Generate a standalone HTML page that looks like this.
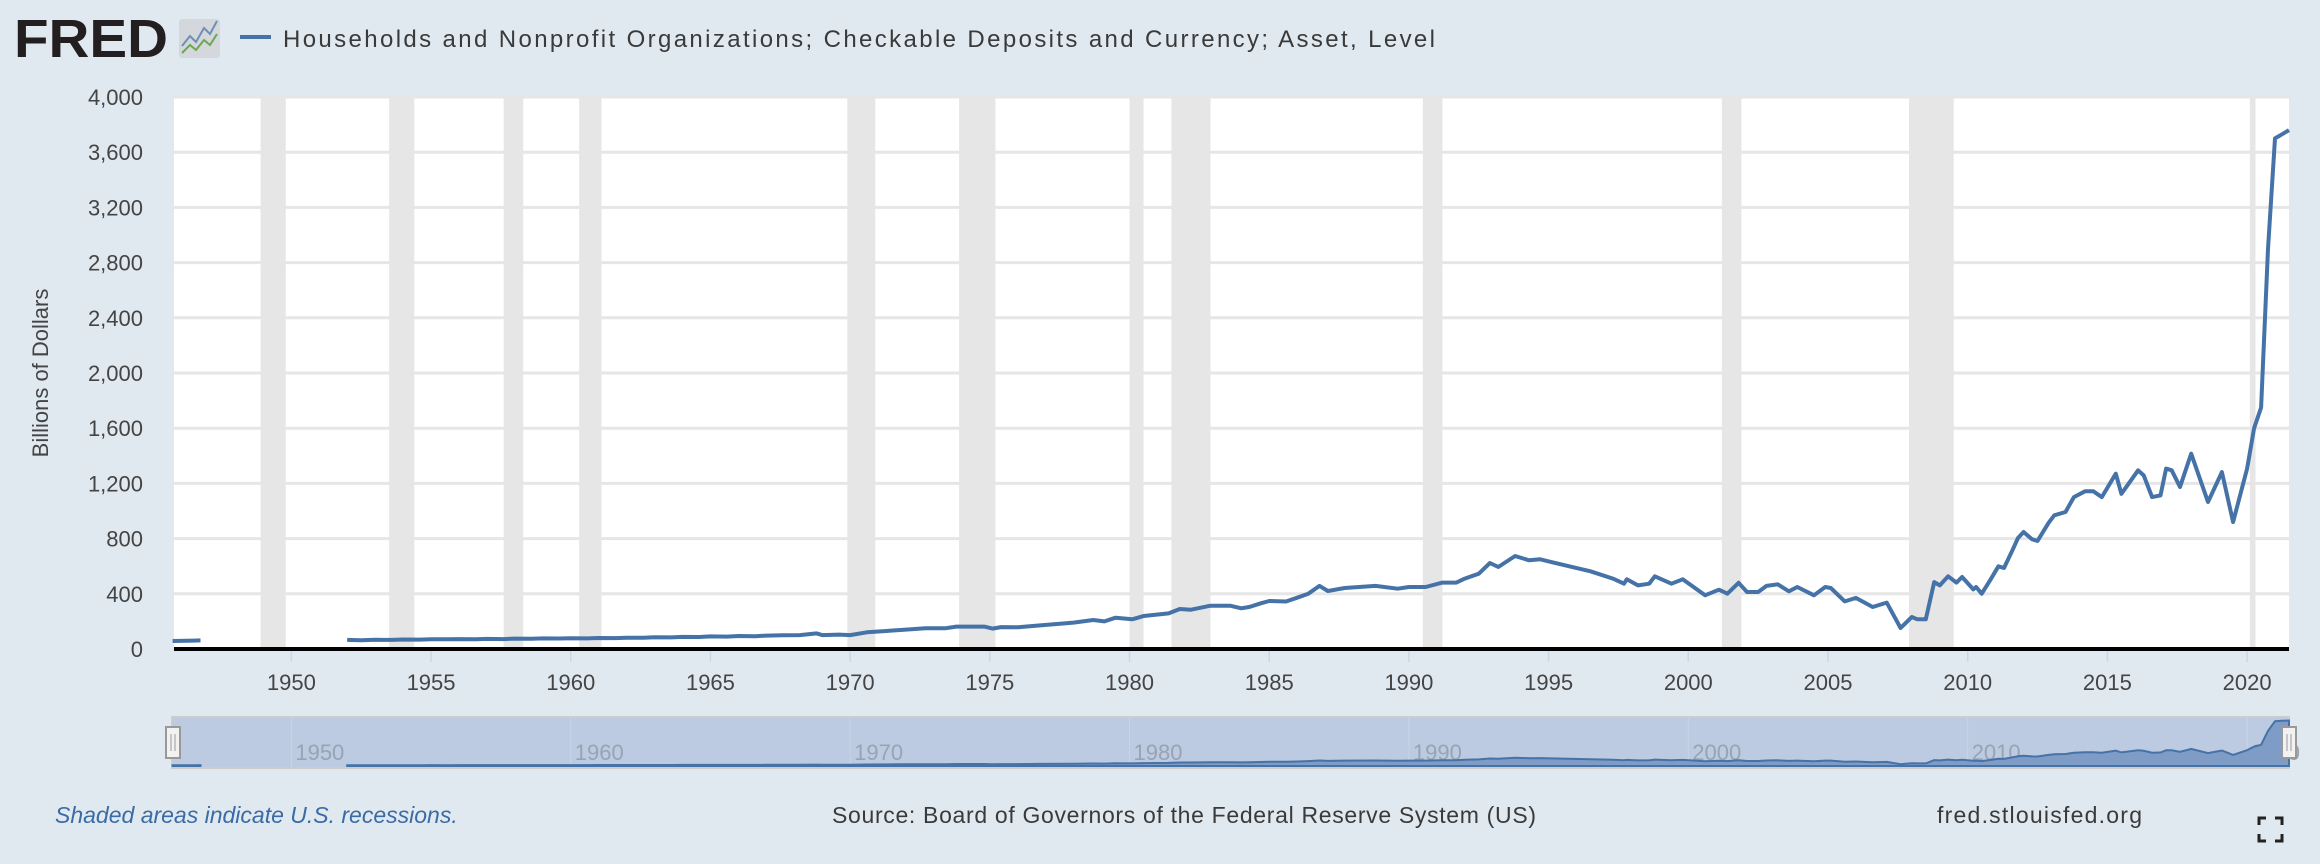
<!DOCTYPE html>
<html><head><meta charset="utf-8">
<style>
html,body{margin:0;padding:0;background:#e1e9f0;}
body{width:2320px;height:864px;overflow:hidden;font-family:"Liberation Sans",sans-serif;}
svg{display:block;}
</style></head>
<body>
<svg id="chart" width="2320" height="864" xmlns="http://www.w3.org/2000/svg">
  <rect x="0" y="0" width="2320" height="864" fill="#e1e9f0"/>
  <g>
    <text x="14" y="57" font-family="Liberation Sans, sans-serif" font-weight="bold" font-size="54" fill="#231f20" textLength="154" lengthAdjust="spacingAndGlyphs">FRED</text>
    <rect x="179" y="19" width="41" height="39" rx="3" fill="#d4d8dc"/>
    <polyline points="182,46 190,36 196,42 204,28 210,34 217,21" fill="none" stroke="#6e8fb8" stroke-width="2"/>
    <polyline points="182,53 190,45 196,50 204,40 210,45 217,34" fill="none" stroke="#6aa84f" stroke-width="2"/>
  </g>
  <line x1="240" y1="37" x2="271" y2="37" stroke="#4572a7" stroke-width="4"/>
  <text x="283" y="47" font-size="24" fill="#3a3a3a" textLength="1152" lengthAdjust="spacing">Households and Nonprofit Organizations; Checkable Deposits and Currency; Asset, Level</text>
  <rect x="174" y="97" width="2115" height="552" fill="#ffffff"/>
  <g id="recessions"></g>
  <g id="grid"></g>
  <g id="yaxis"></g>
  <g id="xaxis"></g>
  <path id="series" fill="none" stroke="#4572a7" stroke-width="4" stroke-linejoin="round"/>
  <line x1="174" y1="649" x2="2289" y2="649" stroke="#000" stroke-width="4"/>
  <text transform="translate(48,373) rotate(-90)" text-anchor="middle" font-size="22" fill="#444">Billions of Dollars</text>
  <g id="nav">
    <rect x="172" y="717" width="2117" height="51" fill="#bccbe1" stroke="#cccccc" stroke-width="2"/>
    <g id="navlabels"></g>
    <path id="navarea" fill="#7f9cc7" stroke="#4572a7" stroke-width="2"/>
    <rect x="166" y="727" width="14" height="31" fill="#f2f2f2" stroke="#999" stroke-width="2"/>
    <line x1="171" y1="734" x2="171" y2="751" stroke="#999" stroke-width="1"/><line x1="175" y1="734" x2="175" y2="751" stroke="#999" stroke-width="1"/>
    <rect x="2282" y="727" width="14" height="31" fill="#f2f2f2" stroke="#999" stroke-width="2"/>
    <line x1="2287" y1="734" x2="2287" y2="751" stroke="#999" stroke-width="1"/><line x1="2291" y1="734" x2="2291" y2="751" stroke="#999" stroke-width="1"/>
  </g>
  <text x="55" y="823" font-size="23" font-style="italic" fill="#3a6ba5">Shaded areas indicate U.S. recessions.</text>
  <text x="832" y="823" font-size="23" fill="#3a3a3a" textLength="704" lengthAdjust="spacing">Source: Board of Governors of the Federal Reserve System (US)</text>
  <text x="1937" y="823" font-size="23" fill="#3a3a3a" textLength="205" lengthAdjust="spacing">fred.stlouisfed.org</text>
  <g stroke="#222" stroke-width="3" fill="none">
    <polyline points="2259,825 2259,818 2266,818"/><polyline points="2275,818 2282,818 2282,825"/>
    <polyline points="2259,834 2259,841 2266,841"/><polyline points="2275,841 2282,841 2282,834"/>
  </g>
</svg>
<script>
const years = [1945.75,1946,1946.25,1946.5,1946.75,null,1952,1952.5,1953,1953.6,1954,1954.6,1955,1955.6,1956,1956.6,1957,1957.6,1958,1958.6,1959,1959.6,1960,1960.6,1961,1961.6,1962,1962.6,1963,1963.6,1964,1964.6,1965,1965.6,1966,1966.6,1967,1967.6,1968.2,1968.8,1969.0,1969.6,1970.0,1970.6,1971.8,1972.7,1973.4,1973.8,1974.8,1975.1,1975.4,1976.0,1976.8,1978.0,1978.7,1979.1,1979.5,1980.1,1980.5,1981.4,1981.8,1982.2,1982.9,1983.6,1984.0,1984.3,1984.7,1985.0,1985.6,1986.0,1986.4,1986.8,1987.1,1987.7,1988.8,1989.6,1990.0,1990.6,1991.2,1991.7,1992.0,1992.5,1992.9,1993.2,1993.8,1994.3,1994.7,1995.1,1995.7,1996.5,1997.3,1997.7,1997.8,1998.2,1998.6,1998.8,1999.4,1999.8,2000.6,2001.1,2001.4,2001.8,2002.1,2002.5,2002.8,2003.2,2003.6,2003.9,2004.5,2004.9,2005.1,2005.6,2006.0,2006.6,2007.1,2007.6,2008.0,2008.2,2008.5,2008.8,2009.0,2009.3,2009.6,2009.8,2010.2,2010.3,2010.5,2010.8,2011.1,2011.3,2011.6,2011.8,2012.0,2012.3,2012.5,2012.9,2013.1,2013.5,2013.8,2014.2,2014.5,2014.8,2015.3,2015.5,2016.1,2016.3,2016.6,2016.9,2017.1,2017.3,2017.6,2018.0,2018.6,2019.1,2019.5,2020.0,2020.25,2020.5,2020.75,2021.0,2021.25,2021.5];
const values = [58,59,60,61,62,null,66,64,67,66,69,68,71,70,72,71,73,72,75,74,77,76,78,77,80,79,82,81,85,84,88,87,91,90,94,93,97,100,101,113,101,104,101,121,138,150,150,162,162,148,159,158,171,191,210,200,227,215,239,258,290,285,314,314,295,305,331,348,344,372,401,457,420,442,457,437,449,449,481,481,510,546,623,594,674,643,650,630,601,563,510,473,505,461,473,527,473,505,389,430,401,480,413,413,457,469,418,449,389,449,442,345,370,304,336,152,232,215,215,485,461,527,481,522,432,449,401,498,599,587,715,804,848,795,783,915,969,993,1101,1143,1143,1101,1270,1125,1295,1258,1101,1113,1307,1295,1174,1415,1065,1282,920,1307,1600,1750,2900,3700,3730,3760];
const recStart = [1948.9,1953.5,1957.6,1960.3,1969.9,1973.9,1980.0,1981.5,1990.5,2001.2,2007.9,2020.1];
const recEnd = [1949.8,1954.4,1958.3,1961.1,1970.9,1975.2,1980.5,1982.9,1991.2,2001.9,2009.5,2020.3];
const yTicks = [0,400,800,1200,1600,2000,2400,2800,3200,3600,4000];
const yTickLabels = ["0","400","800","1,200","1,600","2,000","2,400","2,800","3,200","3,600","4,000"];
const xTicks = [1950,1955,1960,1965,1970,1975,1980,1985,1990,1995,2000,2005,2010,2015,2020];
const navTicks = [1950,1960,1970,1980,1990,2000,2010,2020];

const NS="http://www.w3.org/2000/svg";
const X0=174,X1=2289,T0=1945.8,T1=2021.5,Y0=649,Y1=97,V1=4000;
const x=t=>X0+(t-T0)/(T1-T0)*(X1-X0);
const y=v=>Y0-v/V1*(Y0-Y1);
const NY0=766,NY1=720,nvMax=3800;
const ny=v=>NY0-v/nvMax*(NY0-NY1);
function mk(tag,attrs,parent){const e=document.createElementNS(NS,tag);for(const k in attrs)e.setAttribute(k,attrs[k]);parent.appendChild(e);return e;}

const rec=document.getElementById('recessions');
recStart.forEach((s,i)=>{const r=mk('rect',{x:x(s),y:Y1,width:x(recEnd[i])-x(s),height:Y0-Y1,fill:'#e6e6e6'},rec);

});

const grid=document.getElementById('grid'),ya=document.getElementById('yaxis');
yTicks.forEach((v,i)=>{
  if(v>0){const g=mk('line',{x1:X0,x2:X1,y1:y(v),y2:y(v),stroke:'#e6e6e6','stroke-width':3},grid);
  
  }
  const t=mk('text',{x:143,y:y(v)+8,'text-anchor':'end','font-size':22,fill:'#444'},ya);
  
  
  t.textContent=yTickLabels[i];
});
const xa=document.getElementById('xaxis');
xTicks.forEach(t=>{
  const l=mk('line',{x1:x(t),x2:x(t),y1:651,y2:662,stroke:'#ccd6eb','stroke-width':1.5},xa);
  
  
  const tx=mk('text',{x:x(t),y:690,'text-anchor':'middle','font-size':22,fill:'#444'},xa);
  
  
  tx.textContent=t;
});
const nl=document.getElementById('navlabels');
navTicks.forEach(t=>{
  const l=mk('line',{x1:x(t),x2:x(t),y1:718,y2:767,stroke:'#c9d5e6','stroke-width':1},nl);
  
  
  const tx=mk('text',{x:x(t)+4,y:760,'font-size':22,fill:'#98a3b3'},nl);
  
  
  tx.textContent=t;
});

let d='',pen=false,nd='',segs=[],cur=[];
years.forEach((t,i)=>{
  const v=values[i];
  if(t===null||v===null){pen=false;if(cur.length)segs.push(cur);cur=[];return;}
  d+=(pen?'L':'M')+x(t).toFixed(1)+','+y(v).toFixed(1);pen=true;cur.push([t,v]);
});
if(cur.length)segs.push(cur);
document.getElementById('series').setAttribute('d',d);
segs.forEach(s=>{
  nd+='M'+x(s[0][0]).toFixed(1)+','+NY0;
  s.forEach(p=>{nd+='L'+x(p[0]).toFixed(1)+','+ny(p[1]).toFixed(1);});
  nd+='L'+x(s[s.length-1][0]).toFixed(1)+','+NY0+'Z';
});
document.getElementById('navarea').setAttribute('d',nd);
</script>
</body></html>
